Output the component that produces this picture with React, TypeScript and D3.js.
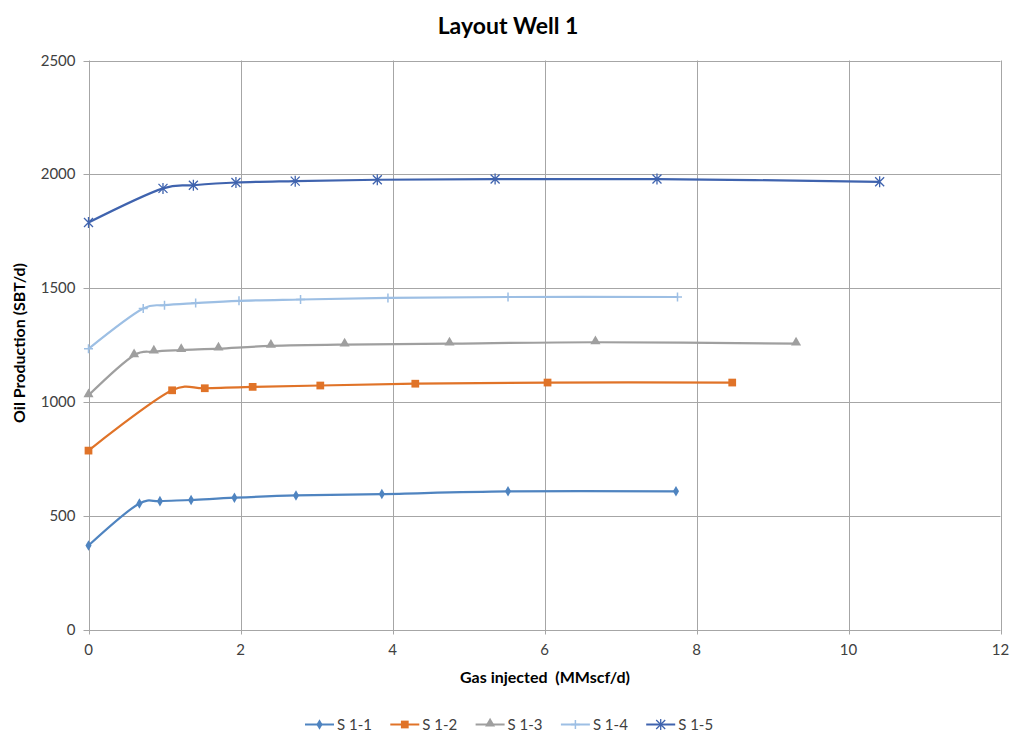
import React, { useEffect, useRef } from "react";
import * as d3 from "d3";

// Series data (gas injected MMscf/d, oil production SBT/d)
const s11X = [0, 0.67, 0.94, 1.35, 1.92, 2.73, 3.86, 5.52, 7.73];
const s11Y = [369, 554, 564, 569, 579, 589, 595, 607, 607];
const s12X = [0, 1.1, 1.53, 2.16, 3.05, 4.3, 6.04, 8.47];
const s12Y = [786, 1051, 1060, 1066, 1072, 1080, 1085, 1085];
const s13X = [0, 0.6, 0.86, 1.22, 1.71, 2.4, 3.37, 4.75, 6.67, 9.31];
const s13Y = [1029, 1205, 1221, 1228, 1234, 1246, 1252, 1256, 1262, 1256];
const s14X = [0, 0.72, 1.0, 1.41, 1.98, 2.79, 3.94, 5.52, 7.75];
const s14Y = [1233, 1410, 1425, 1434, 1444, 1450, 1457, 1461, 1461];
const s15X = [0, 0.98, 1.38, 1.94, 2.72, 3.8, 5.35, 7.48, 10.41];
const s15Y = [1788, 1938, 1952, 1964, 1970, 1976, 1979, 1979, 1967];

const seriesNames = ["S 1-1", "S 1-2", "S 1-3", "S 1-4", "S 1-5"];
const xTicks = [0, 2, 4, 6, 8, 10, 12];
const yTicks = [0, 500, 1000, 1500, 2000, 2500];

type Pt = { x: number; y: number };
type Series = { name: string; color: string; marker: string; points: Pt[] };

const zip = (xs: number[], ys: number[]): Pt[] => xs.map((x, i) => ({ x, y: ys[i] }));

const series: Series[] = [
  { name: seriesNames[0], color: "#4f84c0", marker: "diamond", points: zip(s11X, s11Y) },
  { name: seriesNames[1], color: "#e07328", marker: "square", points: zip(s12X, s12Y) },
  { name: seriesNames[2], color: "#9f9f9f", marker: "triangle", points: zip(s13X, s13Y) },
  { name: seriesNames[3], color: "#9dbfe4", marker: "plus", points: zip(s14X, s14Y) },
  { name: seriesNames[4], color: "#3f63ae", marker: "star", points: zip(s15X, s15Y) },
];

const FONT = "Lato, 'Open Sans', sans-serif";

const drawMarker = (
  g: d3.Selection<SVGGElement, unknown, null, undefined>,
  kind: string,
  color: string,
  cx: number,
  cy: number
) => {
  if (kind === "diamond") {
    g.append("path")
      .attr("d", d3.symbol(d3.symbolDiamond, 32)())
      .attr("transform", `translate(${cx},${cy})`)
      .attr("fill", color);
  } else if (kind === "square") {
    g.append("path")
      .attr("d", d3.symbol(d3.symbolSquare, 60)())
      .attr("transform", `translate(${cx},${cy})`)
      .attr("fill", color);
  } else if (kind === "triangle") {
    g.append("path")
      .attr("d", d3.symbol(d3.symbolTriangle, 44)())
      .attr("transform", `translate(${cx},${cy - 1})`)
      .attr("fill", color);
  } else if (kind === "plus") {
    const r = 4.5;
    g.append("path")
      .attr("d", `M${cx - r},${cy}H${cx + r}M${cx},${cy - r}V${cy + r}`)
      .attr("stroke", color)
      .attr("stroke-width", 1.5)
      .attr("fill", "none");
  } else {
    const r = 4.5;
    g.append("path")
      .attr(
        "d",
        `M${cx - r},${cy - r}L${cx + r},${cy + r}M${cx - r},${cy + r}L${cx + r},${cy - r}M${cx},${cy - r - 1}V${cy + r + 1}`
      )
      .attr("stroke", color)
      .attr("stroke-width", 1.3)
      .attr("fill", "none");
  }
};

const App: React.FC = () => {
  const ref = useRef<SVGSVGElement>(null);

  useEffect(() => {
    drawChart();
  }, []);

  const drawChart = () => {
    const width = 1010;
    const height = 731;
    const left = 88.5;
    const right = 1000.5;
    const top = 60.5;
    const bottom = 629.5;

    const x = d3.scaleLinear().domain([0, 12]).range([left, right]);
    const y = d3.scaleLinear().domain([0, 2500]).range([bottom, top]);

    const svg = d3.select(ref.current);
    svg.selectAll("*").remove();
    svg.attr("width", width).attr("height", height);

    svg.append("rect").attr("width", width).attr("height", height).attr("fill", "#ffffff");

    // Title
    svg
      .append("text")
      .attr("x", 508)
      .attr("y", 34)
      .attr("text-anchor", "middle")
      .style("font-family", FONT)
      .style("font-weight", "bold")
      .style("font-size", "23px")
      .attr("fill", "#000")
      .text("Layout Well 1");

    // Gridlines
    const grid = svg.append("g");
    grid
      .selectAll("line.h")
      .data(yTicks)
      .join("line")
      .attr("class", "h")
      .attr("x1", left - 5)
      .attr("x2", right)
      .attr("y1", (d) => Math.round(y(d)) + 0.5)
      .attr("y2", (d) => Math.round(y(d)) + 0.5)
      .attr("stroke", "#a6a6a6")
      .attr("stroke-width", 1);
    grid
      .selectAll("line.v")
      .data(xTicks)
      .join("line")
      .attr("class", "v")
      .attr("x1", (d) => Math.round(x(d)) + 0.5)
      .attr("x2", (d) => Math.round(x(d)) + 0.5)
      .attr("y1", top)
      .attr("y2", bottom + 5)
      .attr("stroke", "#a6a6a6")
      .attr("stroke-width", 1);

    // Tick labels
    svg
      .append("g")
      .selectAll("text")
      .data(yTicks)
      .join("text")
      .attr("x", left - 13)
      .attr("y", (d) => y(d) + 5)
      .attr("text-anchor", "end")
      .style("font-family", FONT)
      .style("font-size", "15px")
      .attr("fill", "#404040")
      .text((d) => String(d));
    svg
      .append("g")
      .selectAll("text")
      .data(xTicks)
      .join("text")
      .attr("x", (d) => x(d))
      .attr("y", bottom + 25)
      .attr("text-anchor", "middle")
      .style("font-family", FONT)
      .style("font-size", "15px")
      .attr("fill", "#404040")
      .text((d) => String(d));

    // Axis titles
    svg
      .append("text")
      .attr("x", 545)
      .attr("y", 683)
      .attr("text-anchor", "middle")
      .style("font-family", FONT)
      .style("font-weight", "bold")
      .style("font-size", "16px")
      .attr("fill", "#000")
      .attr("xml:space", "preserve")
      .text("Gas injected  (MMscf/d)");
    svg
      .append("text")
      .attr("transform", `translate(25,${343}) rotate(-90)`)
      .attr("text-anchor", "middle")
      .style("font-family", FONT)
      .style("font-weight", "bold")
      .style("font-size", "16px")
      .attr("fill", "#000")
      .text("Oil Production (SBT/d)");

    // Series lines with smoothing
    const line = d3
      .line<Pt>()
      .x((d) => x(d.x))
      .y((d) => y(d.y))
      .curve(d3.curveCatmullRom.alpha(0.2));

    const plot = svg.append("g");
    series.forEach((s) => {
      plot
        .append("path")
        .attr("d", line(s.points))
        .attr("fill", "none")
        .attr("stroke", s.color)
        .attr("stroke-width", 2.2);
      const mg = plot.append("g");
      s.points.forEach((p) => drawMarker(mg, s.marker, s.color, x(p.x), y(p.y)));
    });

    // Legend
    const legend = svg.append("g");
    const legendY = 724.5;
    series.forEach((s, i) => {
      const lx = 305 + i * 85.3;
      legend
        .append("line")
        .attr("x1", lx)
        .attr("x2", lx + 29)
        .attr("y1", legendY)
        .attr("y2", legendY)
        .attr("stroke", s.color)
        .attr("stroke-width", 2);
      drawMarker(legend, s.marker, s.color, lx + 14.5, legendY);
      legend
        .append("text")
        .attr("x", lx + 32)
        .attr("y", legendY + 5)
        .style("font-family", FONT)
        .style("font-size", "15px")
        .attr("fill", "#404040")
        .text(s.name);
    });
  };

  return <svg ref={ref} style={{ position: "absolute", left: 0, top: 0 }} />;
};

export default App;
